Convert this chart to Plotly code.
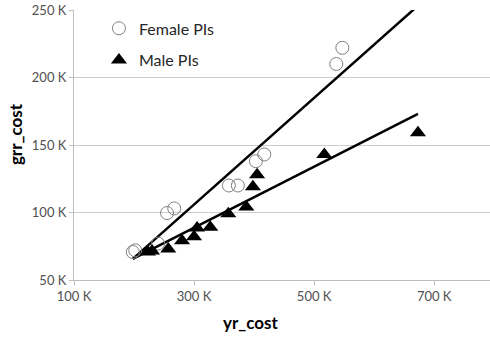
import plotly.graph_objects as go

# Data (values in thousands)
female_x = [198, 202, 240, 255, 267, 358, 373, 403, 417, 537, 547]
female_y = [70.7, 72, 77, 99.6, 103, 120, 120, 138, 143, 210, 222]

male_x = [223, 230, 257, 280, 300, 305, 327, 357, 387, 398, 405, 517, 673]
male_y = [70.7, 71.5, 73, 79, 82, 88.5, 89, 99, 104, 119, 128, 143, 159]

trend_x = [198, 673]
female_trend_y = [65.6, 253.2]
male_trend_y = [65.6, 173]

x_ticks = [100, 300, 500, 700]
x_tick_labels = ["100 K", "300 K", "500 K", "700 K"]
y_ticks = [50, 100, 150, 200, 250]
y_tick_labels = ["50 K", "100 K", "150 K", "200 K", "250 K"]

FONT = "Lato, 'Open Sans', sans-serif"

fig = go.Figure()
fig.add_trace(go.Scatter(x=trend_x, y=female_trend_y, mode="lines",
                         line=dict(color="black", width=2.5), showlegend=False, hoverinfo="skip"))
fig.add_trace(go.Scatter(x=trend_x, y=male_trend_y, mode="lines",
                         line=dict(color="black", width=2.5), showlegend=False, hoverinfo="skip"))
fig.add_trace(go.Scatter(x=female_x, y=female_y, mode="markers", name="Female PIs",
                         legendgroup="f",
                         marker=dict(symbol="circle-open", size=13, color="#808080",
                                     line=dict(width=1, color="#808080"))))
fig.add_trace(go.Scatter(x=male_x, y=male_y, mode="markers", name="Male PIs",
                         legendgroup="m",
                         marker=dict(symbol="triangle-up", size=14, color="black")))

fig.update_layout(
    width=490, height=338,
    margin=dict(l=74, r=0, t=10, b=58, autoexpand=False),
    paper_bgcolor="white", plot_bgcolor="white",
    font=dict(family=FONT, color="#505050", size=13),
    legend=dict(x=0.06, y=0.995, xanchor="left", yanchor="top",
                font=dict(size=16, color="#262626"), bgcolor="rgba(0,0,0,0)",
                tracegroupgap=8, traceorder="grouped"),
    xaxis=dict(range=[100, 793], tickvals=x_ticks, ticktext=x_tick_labels,
               showgrid=False, showline=True, linecolor="#bfbfbf", linewidth=1,
               ticks="outside", ticklen=4, tickcolor="#bfbfbf", zeroline=False,
               automargin=False),
    yaxis=dict(range=[50, 250], tickvals=y_ticks, ticktext=y_tick_labels,
               showgrid=True, gridcolor="#cccccc", gridwidth=1,
               showline=True, linecolor="#bfbfbf", linewidth=1,
               ticks="outside", ticklen=4, tickcolor="#bfbfbf", zeroline=False,
               automargin=False),
    annotations=[
        dict(text="<b>yr_cost</b>", xref="paper", yref="paper", x=0.4255, y=-0.159,
             xanchor="center", yanchor="middle", showarrow=False,
             font=dict(size=17, color="black")),
        dict(text="<b>grr_cost</b>", xref="paper", yref="paper", x=-0.139, y=0.541,
             xanchor="center", yanchor="middle", showarrow=False, textangle=-90,
             font=dict(size=17, color="black")),
    ],
)

fig.write_html("out.html", config={"displayModeBar": False},
               post_script="document.body.style.margin='0';")
